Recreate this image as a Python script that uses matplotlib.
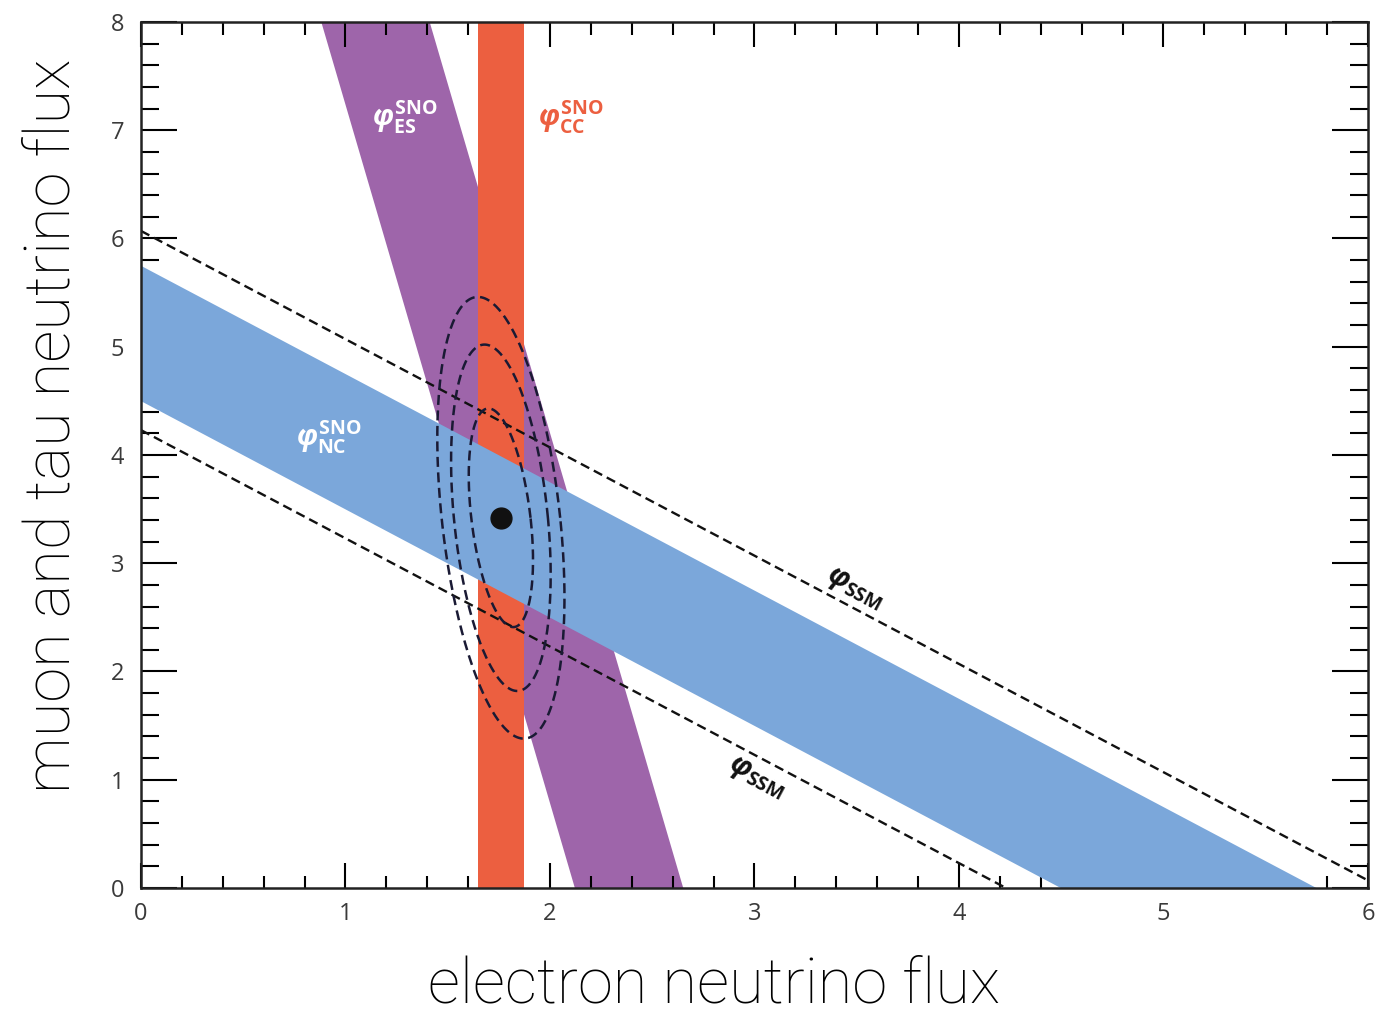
import numpy as np
import matplotlib
matplotlib.use("Agg")
from matplotlib import pyplot as plt

# band limits
cc_band = [1.65, 1.875]          # electron flux range (vertical band)
es_band = [2.12, 2.65]           # x + es_slope * y
es_slope = 0.155
nc_band = [4.5, 5.75]            # x + y
ssm_lines = [4.23, 6.07]         # x + y, dashed

best_fit = [1.76, 3.42]
ell_half_w = [0.145, 0.23, 0.29]
ell_half_h = [1.01, 1.6, 2.04]
ell_shear = [0.06, 0.05, 0.055]

x_ticks = [0, 1, 2, 3, 4, 5, 6]
y_ticks = [0, 1, 2, 3, 4, 5, 6, 7, 8]

purple = "#9e65aa"
orange = "#ec5f40"
blue = "#7ba7da"

plt.rcParams["mathtext.fontset"] = "custom"
plt.rcParams["mathtext.rm"] = "Open Sans"
plt.rcParams["mathtext.bf"] = "Open Sans:bold"
plt.rcParams["mathtext.it"] = "Open Sans:italic:bold"

fig = plt.figure(figsize=(13.78, 10.13), dpi=100)
ax = fig.add_axes([0.1023, 0.1234, 0.8904, 0.8549])

yy = np.array([0, 8])
# ES band (purple), drawn first
ax.fill_betweenx(yy, es_band[0] - es_slope * yy, es_band[1] - es_slope * yy,
                 color=purple, lw=0, zorder=1)
# CC band (orange)
ax.axvspan(cc_band[0], cc_band[1], color=orange, lw=0, zorder=2)
# NC band (blue) on top
xx = np.array([0, 6])
ax.fill_between(xx, nc_band[0] - xx, nc_band[1] - xx, color=blue, lw=0, zorder=3)

# SSM dashed lines
for c in ssm_lines:
    ax.plot(xx, c - xx, color="#111111", lw=1.7, ls=(0, (4, 2.2)), zorder=4)

# confidence ellipses
t = np.linspace(0, 2 * np.pi, 400)
for w, h, s in zip(ell_half_w, ell_half_h, ell_shear):
    ex = best_fit[0] + w * np.cos(t) - s * h * np.sin(t)
    ey = best_fit[1] + h * np.sin(t)
    ax.plot(ex, ey, color="#1a1a34", lw=1.8, ls=(0, (4, 2.2)), zorder=5)

ax.plot(best_fit[0], best_fit[1], "o", color="#111111", ms=15, zorder=6)

# band labels
phi = r"\mathit{\varphi}"
ax.text(1.29, 7.12, r"$%s^{\mathbf{SNO}}_{\mathbf{ES}}$" % phi, color="white",
        fontsize=20, ha="center", va="center", zorder=7)
ax.text(2.1, 7.12, r"$%s^{\mathbf{SNO}}_{\mathbf{CC}}$" % phi, color=orange,
        fontsize=20, ha="center", va="center", zorder=7)
ax.text(0.92, 4.17, r"$%s^{\mathbf{SNO}}_{\mathbf{NC}}$" % phi, color="white",
        fontsize=20, ha="center", va="center", zorder=7)
ax.text(3.49, 2.76, r"$%s_{\mathbf{SSM}}$" % phi, color="#111111", fontsize=20,
        ha="center", va="center", rotation=-28, zorder=7)
ax.text(3.01, 1.02, r"$%s_{\mathbf{SSM}}$" % phi, color="#111111", fontsize=20,
        ha="center", va="center", rotation=-28, zorder=7)

ax.set_xlim(0, 6)
ax.set_ylim(0, 8)
ax.set_xticks(x_ticks)
ax.set_yticks(y_ticks)
ax.set_xticks(np.arange(0, 6.01, 0.2), minor=True)
ax.set_yticks(np.arange(0, 8.01, 0.2), minor=True)
ax.tick_params(axis="x", which="major", direction="in", length=18, width=1.5,
               top=True, bottom=True, pad=10, labelsize=17, labelcolor="#3a3a3a")
ax.tick_params(axis="x", which="minor", direction="in", length=9, width=1.5,
               top=True, bottom=True)
ax.tick_params(axis="y", which="major", direction="in", length=26, width=1.5,
               left=True, right=True, pad=12, labelsize=17, labelcolor="#3a3a3a")
ax.tick_params(axis="y", which="minor", direction="in", length=13, width=1.5,
               left=True, right=True)
for lab in ax.get_xticklabels() + ax.get_yticklabels():
    lab.set_family("Open Sans")
for sp in ax.spines.values():
    sp.set_linewidth(1.8)
    sp.set_color("#222222")
    sp.set_zorder(8)

fig.text(0.518, -0.002, "electron neutrino flux", fontsize=45.5, family="Roboto",
         fontweight="light", ha="center", va="bottom")
fig.text(0.016, 0.58, "muon and tau neutrino flux", fontsize=45.5, family="Roboto",
         fontweight="light", ha="left", va="center", rotation=90)

fig.savefig("out.png", dpi=100)
